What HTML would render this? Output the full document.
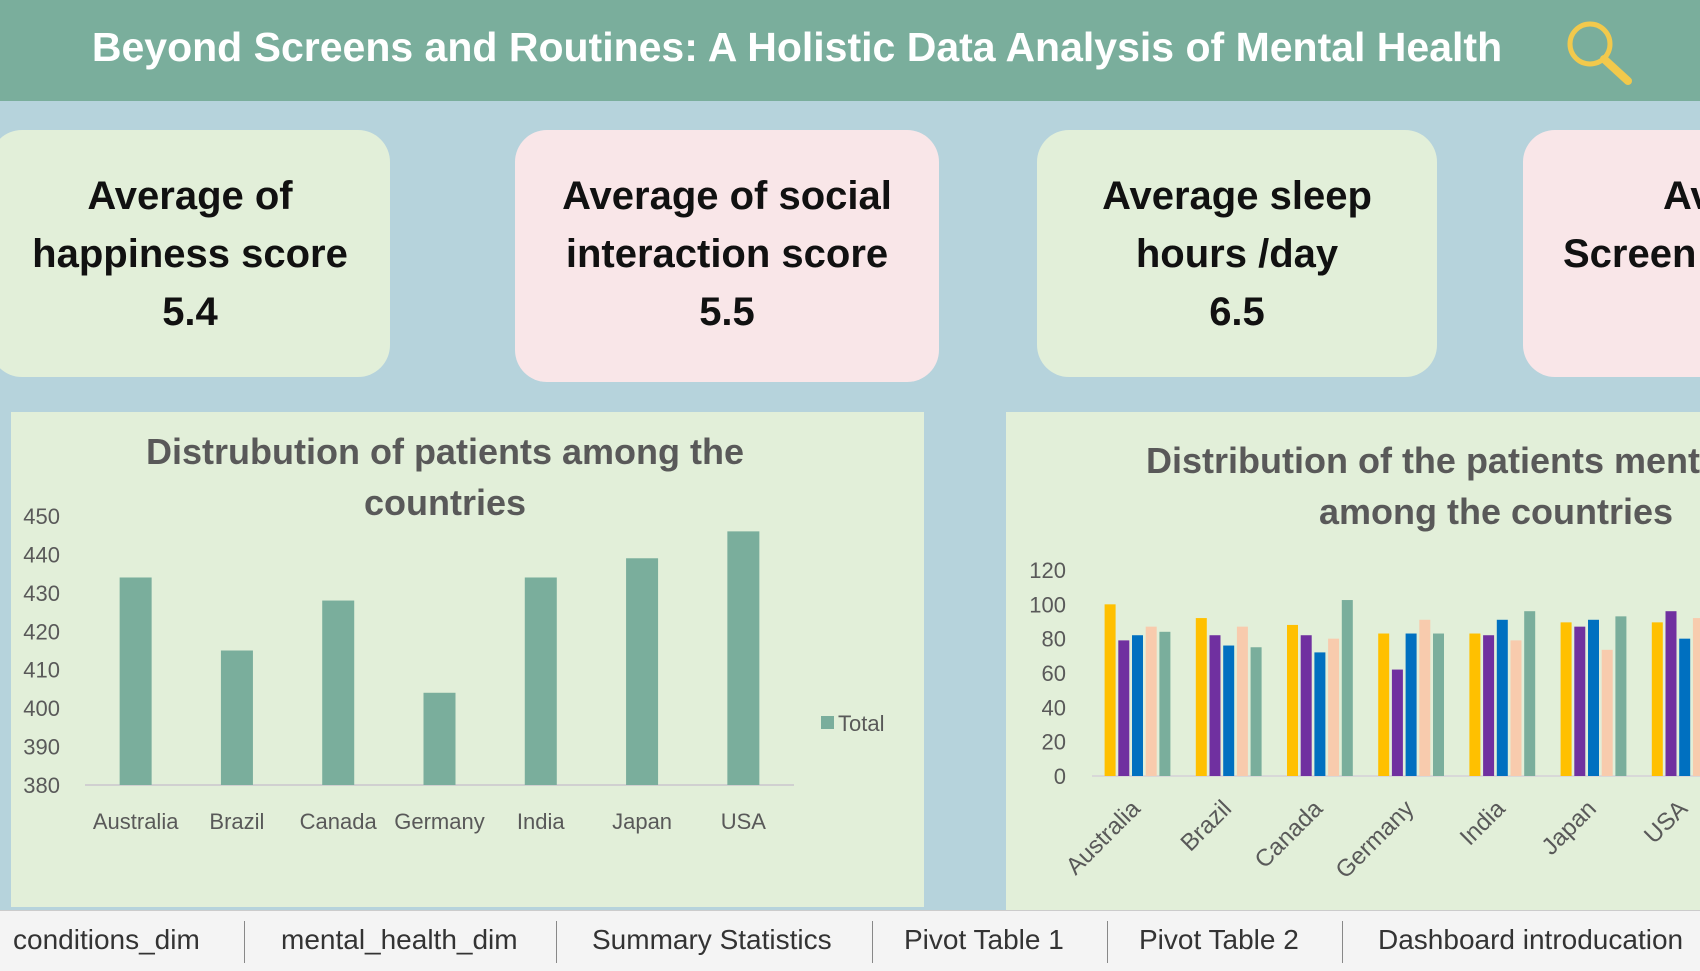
<!DOCTYPE html>
<html><head><meta charset="utf-8"><style>
html,body{margin:0;padding:0}
body{width:1700px;height:970px;position:relative;overflow:hidden;background:#b6d3dc;font-family:"Liberation Sans",sans-serif}
.hdr{position:absolute;left:0;top:0;width:1700px;height:101px;background:#7aae9c}
.ttl{position:absolute;left:0;top:24px;width:1594px;text-align:center;color:#fff;font-weight:bold;font-size:41px;white-space:nowrap}
.card{position:absolute;top:130px;height:247px;border-radius:32px;text-align:center;font-weight:bold;font-size:40px;line-height:58px;color:#111;box-sizing:border-box;padding-top:37px;white-space:nowrap;overflow:hidden}
.g{background:#e2efd9}.p{background:#f9e6e8}
.panel{position:absolute;background:#e2efd9}
.tabs{position:absolute;left:0;top:910px;width:1700px;height:60px;background:#f4f4f4;border-top:1px solid #ccc}
.tab{position:absolute;top:13px;font-size:28px;color:#333;white-space:nowrap}
.sep{position:absolute;top:10px;width:1px;height:42px;background:#888}
</style></head><body>
<div class="hdr">
<div class="ttl">Beyond Screens and Routines: A Holistic Data Analysis of Mental Health</div>
<svg style="position:absolute;left:1560px;top:14px" width="80" height="80"><circle cx="30" cy="30" r="20" fill="none" stroke="#f2c94c" stroke-width="5"/><line x1="44" y1="45" x2="68" y2="67" stroke="#f2c94c" stroke-width="8" stroke-linecap="round"/></svg>
</div>
<div class="card g" style="left:-10px;width:400px">Average of<br>happiness score<br>5.4</div>
<div class="card p" style="left:515px;width:424px;height:252px">Average of social<br>interaction score<br>5.5</div>
<div class="card g" style="left:1037px;width:400px">Average sleep<br>hours /day<br>6.5</div>
<div class="card p" style="left:1523px;width:260px;text-align:left;padding-left:40px"><span style="padding-left:100px">Ave</span><br>Screen<br><span style="padding-left:150px">5</span></div>

<div class="panel" style="left:11px;top:412px;width:913px;height:495px"></div>
<div class="panel" style="left:1006px;top:412px;width:694px;height:498px"></div>

<svg id="c1" style="position:absolute;left:0;top:0" width="1700" height="970"></svg>

<div class="tabs">
<div class="tab" style="left:13px">conditions_dim</div>
<div class="sep" style="left:244px"></div>
<div class="tab" style="left:281px">mental_health_dim</div>
<div class="sep" style="left:556px"></div>
<div class="tab" style="left:592px">Summary Statistics</div>
<div class="sep" style="left:872px"></div>
<div class="tab" style="left:904px">Pivot Table 1</div>
<div class="sep" style="left:1107px"></div>
<div class="tab" style="left:1139px">Pivot Table 2</div>
<div class="sep" style="left:1342px"></div>
<div class="tab" style="left:1378px">Dashboard introducation</div>
</div>

<script>
const countries=["Australia","Brazil","Canada","Germany","India","Japan","USA"];
const totals=[434,415,428,404,434,439,446];
const ticks1=[380,390,400,410,420,430,440,450];
const ticks2=[0,20,40,60,80,100,120];
const s1=[100,92,88,83,83,89.5,89.5];
const s2=[79,82,82,62,82,87,96];
const s3=[82,76,72,83,91,91,80];
const s4=[87,87,80,91,79,73.5,92];
const s5=[84,75,102.5,83,96,93,85];
const seriesColors=["#ffc000","#7030a0","#0070c0","#f8cbad","#7aae9c"];
const NS="http://www.w3.org/2000/svg";
const svg=document.getElementById('c1');
function mk(t,a,p){const e=document.createElementNS(NS,t);for(const k in a)e.setAttribute(k,a[k]);(p||svg).appendChild(e);return e;}
const gray="#595959";
// chart 1
const y1=v=>785-(v-380)*(785-516)/70;
const x1L=85,bw1=(794-85)/7,x1=i=>x1L+bw1*(i+0.5);
let t=mk('text',{x:445,y:464,'text-anchor':'middle','font-size':36,'font-weight':'bold',fill:gray});t.textContent="Distrubution of patients among the";

t=mk('text',{x:445,y:515,'text-anchor':'middle','font-size':36,'font-weight':'bold',fill:gray});t.textContent="countries";
ticks1.forEach(v=>{const e=mk('text',{x:60,y:y1(v)+8,'text-anchor':'end','font-size':22,fill:gray});e.textContent=v;
});
mk('line',{x1:x1L,x2:794,y1:785,y2:785,stroke:'#d0d0d0','stroke-width':2});
countries.forEach((c,i)=>{
 const r=mk('rect',{x:x1(i)-16,y:y1(totals[i]),width:32,height:785-y1(totals[i]),fill:'#7aae9c'});
 
 const l=mk('text',{x:x1(i),y:829,'text-anchor':'middle','font-size':22,fill:gray});l.textContent=c;
 
});
mk('rect',{x:821,y:716,width:13,height:13,fill:'#7aae9c'});
t=mk('text',{x:838,y:731,'font-size':22,fill:gray});t.textContent="Total";

// chart 2
const y2=v=>776-v*(776-570)/120;
const x2L=1092,bw2=91.2,x2=i=>x2L+bw2*(i+0.5);
const cp=mk('clipPath',{id:'cl'});mk('rect',{x:1006,y:412,width:694,height:498},cp);
t=mk('text',{x:1496,y:473,'text-anchor':'middle','font-size':36,'font-weight':'bold',fill:gray,'clip-path':'url(#cl)'});t.textContent="Distribution of the patients mental health";

t=mk('text',{x:1496,y:524,'text-anchor':'middle','font-size':36,'font-weight':'bold',fill:gray});t.textContent="among the countries";
ticks2.forEach(v=>{const e=mk('text',{x:1066,y:y2(v)+8,'text-anchor':'end','font-size':22,fill:gray});e.textContent=v;
});
mk('line',{x1:x2L,x2:1700,y1:776,y2:776,stroke:'#d8d8d8','stroke-width':2});
const series=[s1,s2,s3,s4,s5];
countries.forEach((c,i)=>{
 series.forEach((s,j)=>{
  const r=mk('rect',{x:x2(i)-33+j*13.7,y:y2(s[i]),width:11,height:776-y2(s[i]),fill:seriesColors[j]});
  
 });
 const l=mk('text',{x:x2(i)+4,y:810,'text-anchor':'end','font-size':24,fill:gray,transform:`rotate(-45 ${x2(i)+4} 810)`});l.textContent=c;
 
});
</script>
</body></html>
